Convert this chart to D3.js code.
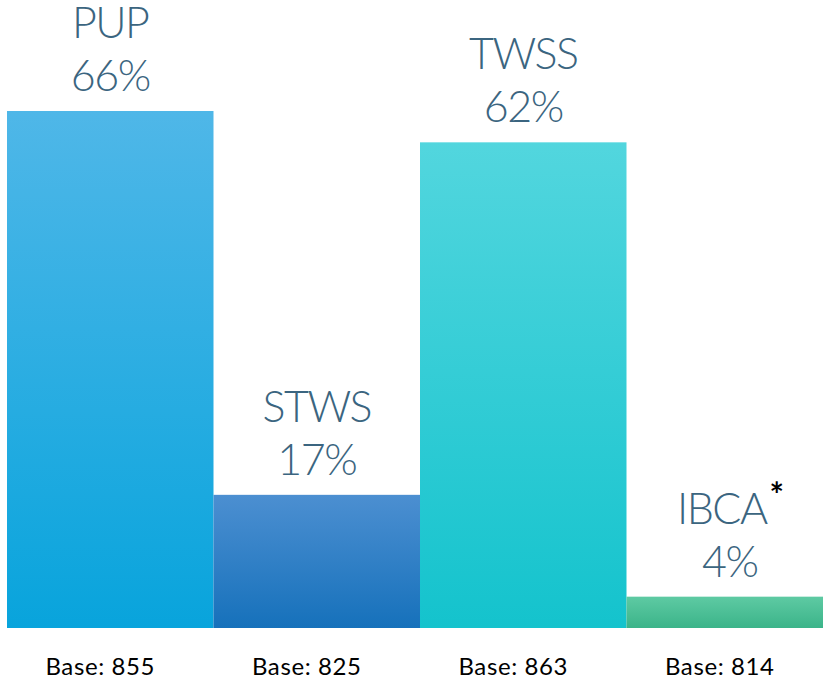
<!DOCTYPE html>
<html>
<head>
<meta charset="utf-8">
<script src="https://cdn.jsdelivr.net/npm/d3@7"></script>
<style>
  html, body { margin: 0; padding: 0; background: #fff; }
  svg { display: block; }
</style>
</head>
<body>
<div id="chart"></div>
<script>
// chart data
var categories = ["PUP", "STWS", "TWSS", "IBCA"];
var values = [66, 17, 62, 4];
var bases = ["Base: 855", "Base: 825", "Base: 863", "Base: 814"];
var footnotes = ["", "", "", "*"];

// colours per bar: [top, bottom]
var gradients = [
  ["#4fb7e8", "#08a4dc"],
  ["#4c8fd1", "#1671bb"],
  ["#52d6de", "#14c3cd"],
  ["#5ecaa3", "#3bb489"]
];

var width = 823, height = 679;

var svg = d3.select("#chart").append("svg")
  .attr("width", width)
  .attr("height", height);

var x = d3.scaleBand()
  .domain(categories)
  .range([7, 833])
  .padding(0);

var y = d3.scaleLinear()
  .domain([0, 66])
  .range([628, 111]);

// gradient defs
var defs = svg.append("defs");
gradients.forEach(function(g, i) {
  var lg = defs.append("linearGradient")
    .attr("id", "grad" + i)
    .attr("x1", 0).attr("y1", 0)
    .attr("x2", 0).attr("y2", 1);
  lg.append("stop").attr("offset", "0%").attr("stop-color", g[0]);
  lg.append("stop").attr("offset", "100%").attr("stop-color", g[1]);
});

// bars
svg.selectAll("rect.bar")
  .data(categories)
  .enter().append("rect")
  .attr("class", "bar")
  .attr("x", function(d) { return x(d); })
  .attr("y", function(d, i) { return y(values[i]); })
  .attr("width", x.bandwidth())
  .attr("height", function(d, i) { return y(0) - y(values[i]); })
  .attr("fill", function(d, i) { return "url(#grad" + i + ")"; });

// labels above bars
var labelFont = "Lato, 'Open Sans', sans-serif";
var lab = svg.selectAll("g.lab")
  .data(categories)
  .enter().append("g")
  .attr("class", "lab");

var nameText = lab.append("text")
  .attr("x", function(d) { return x(d) + x.bandwidth() / 2; })
  .attr("y", function(d, i) { return y(values[i]) - 73; })
  .attr("text-anchor", "middle")
  .attr("font-family", labelFont)
  .attr("font-weight", 300)
  .attr("font-size", 43)
  .attr("letter-spacing", -1.5)
  .attr("fill", "#3b6580");
nameText.append("tspan").text(function(d) { return d; });
nameText.append("tspan")
  .attr("dx", 3)
  .attr("dy", -17)
  .attr("font-size", 34)
  .attr("font-weight", 700)
  .attr("fill", "#000")
  .text(function(d, i) { return footnotes[i]; });

lab.append("text")
  .attr("x", function(d) { return x(d) + x.bandwidth() / 2; })
  .attr("y", function(d, i) { return y(values[i]) - 20; })
  .attr("text-anchor", "middle")
  .attr("font-family", labelFont)
  .attr("font-weight", 300)
  .attr("font-size", 43)
  .attr("letter-spacing", -1.5)
  .attr("fill", "#3b6580")
  .text(function(d, i) { return values[i] + "%"; });

// base labels
svg.selectAll("text.base")
  .data(categories)
  .enter().append("text")
  .attr("class", "base")
  .attr("x", function(d) { return x(d) + x.bandwidth() / 2 - 10; })
  .attr("y", 675)
  .attr("text-anchor", "middle")
  .attr("font-family", "Lato, sans-serif")
  .attr("font-size", 24)
  .attr("letter-spacing", 0.6)
  .attr("fill", "#000")
  .text(function(d, i) { return bases[i]; });
</script>
</body>
</html>
